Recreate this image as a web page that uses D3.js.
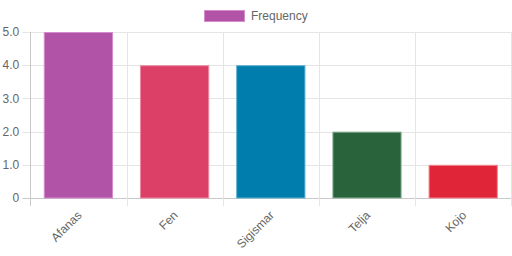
<!DOCTYPE html>
<html><head><meta charset="utf-8">
<script src="https://cdn.jsdelivr.net/npm/d3@7/dist/d3.min.js"></script>
<style>html,body{margin:0;padding:0;background:#fff;}svg{display:block;}</style>
</head><body>
<script>
const categories = ["Afanas", "Fen", "Sigismar", "Telja", "Kojo"];
const values = [5, 4, 4, 2, 1];
const colors = ["#b153a6", "#dc4067", "#007dad", "#29633c", "#e12538"];
const borders = ["#d58ccc", "#ec8aa2", "#5fb0d0", "#8fb59a", "#f28794"];
const yTicks = [0, 1, 2, 3, 4, 5];
const seriesName = "Frequency";

(function () {
const W = 512, H = 256;
const pLeft = 30.3, pRight = 511.3, pTop = 32, pBottom = 198;
const font = "'Liberation Sans', Arial, Helvetica, sans-serif";

const svg = d3.select("body").append("svg").attr("width", W).attr("height", H);

const x = d3.scaleBand().domain(categories).range([pLeft, pRight]).paddingInner(0.28).paddingOuter(0.14);
const y = d3.scaleLinear().domain([0, 5]).range([pBottom, pTop]);
const step = x.step();

const g = svg.append("g");
g.selectAll("line.h").data(yTicks).enter().append("line")
  .attr("x1", pLeft - 8).attr("x2", pRight + 1)
  .attr("y1", d => Math.round(y(d)) + 0.5).attr("y2", d => Math.round(y(d)) + 0.5)
  .attr("stroke", d => d === 0 ? "#c8c8c8" : "#e5e5e5").attr("stroke-width", 1);
const vx = categories.map((c, i) => pLeft + i * step).concat([pRight]);
g.selectAll("line.v").data(vx).enter().append("line")
  .attr("x1", d => Math.round(d) + 0.5).attr("x2", d => Math.round(d) + 0.5)
  .attr("y1", pTop).attr("y2", pBottom + 8)
  .attr("stroke", (d, i) => i === 0 ? "#c8c8c8" : "#e5e5e5").attr("stroke-width", 1);

svg.append("g").selectAll("text").data(yTicks).enter().append("text")
  .attr("x", pLeft - 11).attr("y", d => y(d)).attr("dy", "0.35em")
  .attr("text-anchor", "end").attr("font-family", font).attr("font-size", 12).attr("fill", "#666")
  .text(d => d === 0 ? "0" : d3.format(".1f")(d));

svg.append("g").selectAll("rect").data(categories).enter().append("rect")
  .attr("x", d => x(d) + 0.5).attr("width", x.bandwidth() - 1)
  .attr("y", (d, i) => y(values[i]) + 0.5).attr("height", (d, i) => y(0) - y(values[i]) - 0.5)
  .attr("fill", (d, i) => colors[i]).attr("stroke", (d, i) => borders[i]).attr("stroke-width", 1);

svg.append("g").selectAll("text").data(categories).enter().append("text")
  .attr("transform", d => `translate(${x(d) + x.bandwidth() / 2 + 1},${pBottom + 15}) rotate(-45)`)
  .attr("text-anchor", "end").attr("dy", "0.35em")
  .attr("font-family", font).attr("font-size", 12).attr("fill", "#666")
  .text(d => d);

const lg = svg.append("g");
lg.append("rect").attr("x", 204.5).attr("y", 10.5).attr("width", 40).attr("height", 11)
  .attr("fill", colors[0]).attr("stroke", borders[0]).attr("stroke-width", 1);
lg.append("text").attr("x", 251).attr("y", 16).attr("dy", "0.35em")
  .attr("font-family", font).attr("font-size", 12).attr("fill", "#666").text(seriesName);
})();
</script>
</body></html>
